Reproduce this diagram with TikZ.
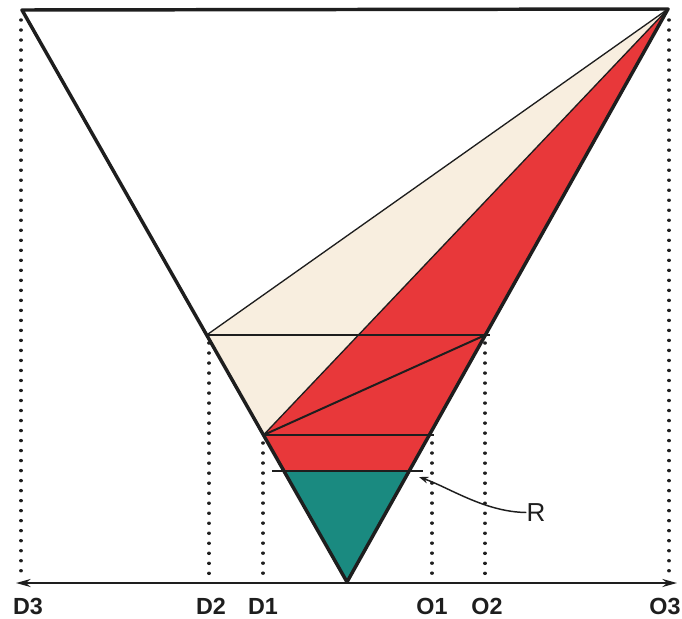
\documentclass[tikz,border=0pt]{standalone}
\usepackage{fontspec}
\setmainfont{Liberation Sans}
\usetikzlibrary{arrows.meta}
\definecolor{redfill}{HTML}{E8383A}
\definecolor{creamfill}{HTML}{F8EEDF}
\definecolor{tealfill}{HTML}{1A8A80}
\definecolor{ink}{HTML}{1E1E1E}
\tikzset{
  edge/.style={draw=ink,line width=2.6pt,line join=round,line cap=round},
  midline/.style={draw=ink,line width=1.5pt},
  thinline/.style={draw=ink,line width=1pt},
  dotline/.style={draw=ink,line width=2.6pt,line cap=round,dash pattern=on 0.01pt off 7.5pt},
  lab/.style={font=\bfseries\fontsize{17.5}{19}\selectfont,text=ink,inner sep=0pt}
}
\begin{document}
\begin{tikzpicture}[x=0.75pt,y=-0.75pt]
\useasboundingbox (0,0) rectangle (682,618);
% key points
\coordinate (TL) at (22,10);
\coordinate (TR) at (668,9);
\coordinate (A) at (347,582);
\coordinate (P2) at (206.7,335);
\coordinate (Q2) at (485.4,335);
\coordinate (Q2e) at (490,335);
\coordinate (P1) at (263.5,435);
\coordinate (Q1) at (429.4,435);
\coordinate (Q1e) at (434,435);
\coordinate (PR) at (283.9,471);
\coordinate (QR) at (409.2,471);
\coordinate (RL) at (272,471);
\coordinate (RR) at (423,471);
% fills
\fill[creamfill] (TR) -- (P2) -- (P1) -- cycle;
\fill[redfill] (TR) -- (P1) -- (PR) -- (QR) -- cycle;
\fill[tealfill] (PR) -- (QR) -- (A) -- cycle;
% inner lines
\draw[thinline] (TR) -- (P2);
\draw[thinline] (TR) -- (P1);
\draw[midline] (P2) -- (Q2e);
\draw[midline] (P1) -- (Q2);
\draw[midline] (P1) -- (Q1e);
\draw[midline] (RL) -- (RR);
% dotted projections
\coordinate (d3t) at (21,20);  \coordinate (d3b) at (21,580);
\coordinate (o3t) at (669,20); \coordinate (o3b) at (669,580);
\coordinate (d2t) at (209,343); \coordinate (d2b) at (209,580);
\coordinate (d1t) at (263,443); \coordinate (d1b) at (263,580);
\coordinate (o1t) at (432,443); \coordinate (o1b) at (432,580);
\coordinate (o2t) at (485,343); \coordinate (o2b) at (485,580);
\foreach \a/\b in {d3t/d3b,o3t/o3b,d2t/d2b,d1t/d1b,o1t/o1b,o2t/o2b}
  \draw[dotline] (\a) -- (\b);
% main triangle
\draw[edge] (TL) -- (TR) -- (A) -- cycle;
% axis
\coordinate (axL) at (16,583);
\coordinate (axR) at (677,583);
\draw[ink,line width=1.6pt,{Stealth[length=11pt,width=6pt]}-{Stealth[length=11pt,width=6pt]}] (axL) -- (axR);
% labels
\node[lab] (D3) at (28,606) {D3};
\node[lab] (D2) at (211,606) {D2};
\node[lab] (D1) at (263,606) {D1};
\node[lab] (O1) at (432,606) {O1};
\node[lab] (O2) at (487,606) {O2};
\node[lab] (O3) at (665,606) {O3};
\node[lab,font=\fontsize{19.5}{21}\selectfont] (R) at (536,512.5) {R};
\coordinate (Rtip) at (419,477);
\draw[ink,line width=1.1pt,-{Stealth[length=7pt,width=5pt]}] (R.west) .. controls (485,512) and (450,488) .. (Rtip);
\end{tikzpicture}
\end{document}
